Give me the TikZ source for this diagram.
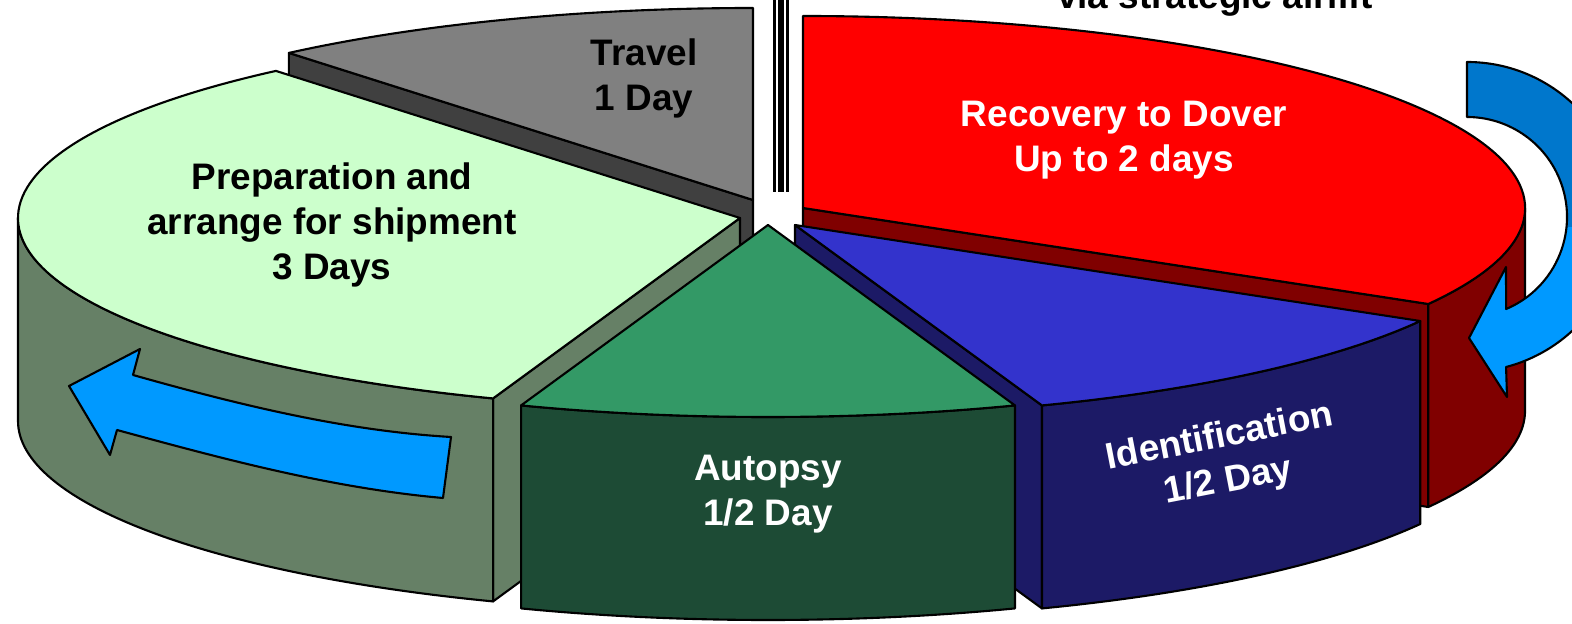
\documentclass[tikz,border=0pt]{standalone}
\usepackage{fontspec}
\setmainfont{Liberation Sans}
\usetikzlibrary{calc}

\definecolor{travelTop}{HTML}{808080}
\definecolor{travelSide}{HTML}{404040}
\definecolor{recTop}{HTML}{FF0000}
\definecolor{recSide}{HTML}{800000}
\definecolor{prepTop}{HTML}{CCFFCC}
\definecolor{prepSide}{HTML}{668066}
\definecolor{idTop}{HTML}{3333CC}
\definecolor{idSide}{HTML}{1C1A66}
\definecolor{autoTop}{HTML}{339966}
\definecolor{autoSide}{HTML}{1D4B35}
\definecolor{arrLight}{HTML}{0099FF}
\definecolor{arrDark}{HTML}{0077CC}

\begin{document}
\begin{tikzpicture}[x=0.1mm, y=0.1mm,
    slice/.style={draw=black, line width=0.6pt, line join=round},
    pieradii/.style={x radius=722, y radius=192},
    lbl/.style={font=\fontsize{10.5}{12.8}\selectfont\bfseries, align=center}]
    \useasboundingbox (0,0) rectangle (1572,623);

    % travel slice
    \coordinate (cT) at (753,423);
    \filldraw[slice, fill=travelSide] (cT) -- +(130:722 and 192) -- +($(130:722 and 192)+(0,-203)$) -- +(0,-203) -- cycle;
    \filldraw[slice, fill=travelTop] (cT) -- +(90:722 and 192) arc[pieradii, start angle=90, end angle=130] -- cycle;

    % recovery slice
    \coordinate (cR) at (803,415);
    \filldraw[slice, fill=recSide] (cR) -- +(-30:722 and 192) -- +($(-30:722 and 192)+(0,-203)$) -- +(0,-203) -- cycle;
    \filldraw[slice, fill=recSide] (cR) ++(-30:722 and 192) arc[pieradii, start angle=-30, end angle=0] -- ++(0,-203) arc[pieradii, start angle=0, end angle=-30] -- cycle;
    \filldraw[slice, fill=recTop] (cR) -- +(-30:722 and 192) arc[pieradii, start angle=-30, end angle=90] -- cycle;

    % preparation slice
    \coordinate (cP) at (740,405);
    \filldraw[slice, fill=prepSide] (cP) -- +(250:722 and 192) -- +($(250:722 and 192)+(0,-203)$) -- +(0,-203) -- cycle;
    \filldraw[slice, fill=prepSide] (cP) ++(180:722 and 192) arc[pieradii, start angle=180, end angle=250] -- ++(0,-203) arc[pieradii, start angle=250, end angle=180] -- cycle;
    \filldraw[slice, fill=prepTop] (cP) -- +(130:722 and 192) arc[pieradii, start angle=130, end angle=250] -- cycle;

    % identification slice
    \coordinate (cI) at (795,398);
    \filldraw[slice, fill=idSide] (cI) -- +(-70:722 and 192) -- +($(-70:722 and 192)+(0,-203)$) -- +(0,-203) -- cycle;
    \filldraw[slice, fill=idSide] (cI) ++(-70:722 and 192) arc[pieradii, start angle=-70, end angle=-30] -- ++(0,-203) arc[pieradii, start angle=-30, end angle=-70] -- cycle;
    \filldraw[slice, fill=idTop] (cI) -- +(-70:722 and 192) arc[pieradii, start angle=-70, end angle=-30] -- cycle;

    % autopsy slice
    \coordinate (cA) at (768,398);
    \filldraw[slice, fill=autoSide] (cA) ++(-110:722 and 192) arc[pieradii, start angle=-110, end angle=-70] -- ++(0,-203) arc[pieradii, start angle=-70, end angle=-110] -- cycle;
    \filldraw[slice, fill=autoTop] (cA) -- +(-110:722 and 192) arc[pieradii, start angle=-110, end angle=-70] -- cycle;

    % separator
    \draw[line width=0.23mm] (774.5,623) -- (774.5,431);
    \draw[line width=0.6mm] (780.8,623) -- (780.8,431);
    \draw[line width=0.3mm] (787.5,623) -- (787.5,431);

    % arrow on the preparation wall
    \filldraw[slice, fill=arrLight] (451,186) .. controls (350,192) and (250,215) .. (133,248)
        -- (140,274) -- (69,237) -- (110,168) -- (117,193)
        .. controls (220,165) and (330,135) .. (443,125) -- cycle;

    % turning arrow on the right
    \coordinate (cArc) at (1467,406);
    \filldraw[slice, fill=arrLight, path picture={\fill[arrDark] (1380,396) rectangle (1700,700);}]
        (cArc) ++(90:155) arc[start angle=90, end angle=-75.4, radius=155]
        -- (1507,226) -- (1469,285) -- (1506,356)
        -- ([shift={(-67:100)}]cArc) arc[start angle=-67, end angle=90, radius=100] -- cycle;

    % labels
    \node[lbl] (travel) at (644,545) {Travel\\1 Day};
    \node[lbl, text=white] (recovery) at (1124,483) {Recovery to Dover\\Up to 2 days};
    \node[lbl] (prep) at (332,398) {Preparation and\\arrange for shipment\\3 Days};
    \node[lbl, text=white] (autopsy) at (768,129) {Autopsy\\1/2 Day};
    \node[lbl, text=white, rotate=11] (ident) at (1224,163) {Identification\\1/2 Day};
    \node[lbl, anchor=base] (airlift) at (1215,614) {via strategic airlift};
\end{tikzpicture}
\end{document}
